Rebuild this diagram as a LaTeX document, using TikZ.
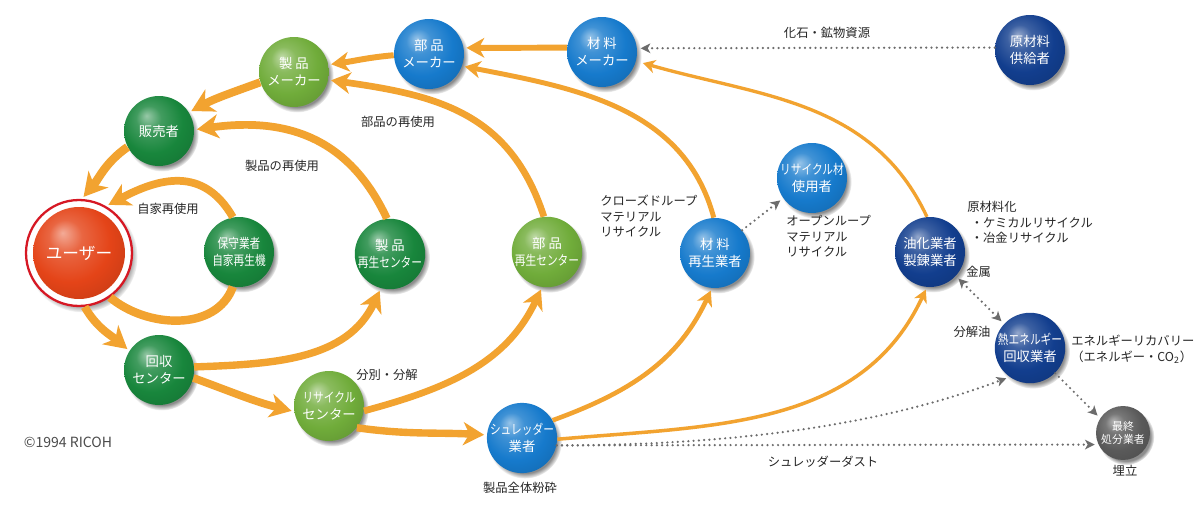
\documentclass[tikz,border=0pt]{standalone}
\usepackage{fontspec}
\newfontfamily\jpfont{Noto Sans CJK JP}
\usetikzlibrary{arrows.meta,shadows}

\definecolor{floworange}{RGB}{242,163,48}
\definecolor{dotgray}{RGB}{108,108,108}
\definecolor{dkgreen}{RGB}{24,134,60}
\definecolor{ltgreen}{RGB}{112,172,58}
\definecolor{midblue}{RGB}{22,122,204}
\definecolor{navyblue}{RGB}{18,62,142}
\definecolor{ashgray}{RGB}{90,90,90}
\definecolor{userred}{RGB}{228,68,24}
\definecolor{ringred}{RGB}{214,24,36}

% sphere look of the actors
\colorlet{spherecol}{midblue}
\pgfdeclareradialshading[spherecol]{sphere}{\pgfpoint{-9bp}{11bp}}{%
	color(0bp)=(spherecol!45!white); color(9bp)=(spherecol!82!white);
	color(22bp)=(spherecol); color(36bp)=(spherecol!86!black);
	color(50bp)=(spherecol!66!black)}

\newcommand{\nodefont}{\jpfont\fontsize{7.6}{9.6}\selectfont}
\newcommand{\labelfont}{\jpfont\fontsize{7}{8.8}\selectfont}
\newcommand{\cond}[1]{\scalebox{0.8}[1]{#1}}

\begin{document}
\begin{tikzpicture}[
		x=0.02cm, y=0.02cm,
		font=\jpfont,
		sphere color/.code={\colorlet{spherecol}{#1}},
		halo/.style={
			circular drop shadow={shadow xshift=1.6pt, shadow yshift=-2pt,
				shadow scale=1.05, fill=black!45}
		},
		orb/.style={
			circle,
			shade,
			shading=sphere,
			sphere color=#1,
			inner sep=0pt,
			text=white,
			align=center
		},
		ball/.style={
			orb=#1,
			minimum size=1.4cm,
			font=\nodefont,
			halo
		},
		caption/.style={
			font=\labelfont,
			text=black!85,
			inner sep=0pt,
			align=left
		},
		flowtip/.tip={Stealth[length=3pt 2.1,width=3pt 2.4,inset=1pt 0.6]},
		dottip/.tip={Stealth[length=5.5pt,width=5.5pt,inset=1.5pt]},
		flow/.style={
			draw=floworange,
			line width=#1,
			-flowtip,
			shorten >=1.5pt
		},
		dotlink/.style={
			draw=dotgray,
			line width=1.4pt,
			line cap=round,
			dash pattern=on 0pt off 3pt,
			-dottip,
			shorten >=2pt
		}
	]
		\useasboundingbox (0,0) rectangle (1200,524);
		\fill[white] (0,0) rectangle (1200,524);

		% the user
		\node[circle,draw=ringred,line width=1.3pt,fill=white,minimum size=2.12cm,halo] (user) at (79,271) {};
		\node[orb=userred,minimum size=1.84cm,font=\jpfont\fontsize{9.5}{11}\selectfont] (userball) at (user.center) {ユーザー};

		% actors
		\node[ball=dkgreen] (seller) at (159,393) {販売者};
		\node[ball=ltgreen] (pmaker) at (294,452) {製 品\\メーカー};
		\node[ball=midblue] (partmk) at (429,470) {部 品\\メーカー};
		\node[ball=midblue] (matmk) at (602,472) {材 料\\メーカー};
		\node[ball=navyblue] (rawsup) at (1030,474) {原材料\\供給者};
		\node[ball=midblue] (ruser) at (812,346) {\cond{リサイクル材}\\使用者};
		\node[ball=dkgreen] (maint) at (239,272) {\cond{保守業者}\\\cond{自家再生機}};
		\node[ball=dkgreen] (preuse) at (390,270) {製 品\\\cond{再生センター}};
		\node[ball=ltgreen] (partre) at (547,272) {部 品\\\cond{再生センター}};
		\node[ball=midblue] (matre) at (715,271) {材 料\\再生業者};
		\node[ball=navyblue] (oil) at (930,272) {油化業者\\製錬業者};
		\node[ball=navyblue] (heat) at (1030,176) {\cond{熱エネルギー}\\回収業者};
		\node[ball=ashgray,minimum size=1.08cm,font=\jpfont\fontsize{6.2}{7.8}\selectfont] (final) at (1123,91) {最終\\処分業者};
		\node[ball=dkgreen] (collect) at (159,154) {回収\\センター};
		\node[ball=ltgreen] (recyc) at (329,118) {\cond{リサイクル}\\センター};
		\node[ball=midblue] (shred) at (522,86) {\cond{シュレッダー}\\業者};

		% main loop
		\draw[flow=4.6pt] (pmaker.197) to[out=200,in=28] (seller.32);
		\draw[flow=4.8pt] (seller.207) to[out=215,in=50] (user.87);
		\draw[flow=4.6pt] (user.-84) to[out=-60,in=140] (collect.147);
		\draw[flow=4.4pt] (collect.-13) to[out=-20,in=166] (recyc.189);
		\draw[flow=4.2pt] (recyc.-38) to[out=-8,in=177] (shred.175);

		% reuse loops
		\draw[flow=4.4pt] (maint.100) to[out=120,in=28,looseness=1.2] (user.60);
		\draw[draw=floworange,line width=4.8pt] (user.-55) to[out=-40,in=250] (maint.260);
		\draw[flow=4.4pt] (preuse.95) to[out=115,in=8,looseness=1.1] (seller.2);
		\draw[flow=4.2pt] (collect.5) to[out=2,in=245] (preuse.255);
		\draw[flow=3.8pt] (partre.95) to[out=108,in=-8,looseness=1.1] (pmaker.-13);
		\draw[flow=3.8pt] (recyc.-8) to[out=15,in=245] (partre.262);

		% material side
		\draw[flow=3.4pt] (partmk.182) to[out=185,in=8] (pmaker.12);
		\draw[flow=3.4pt] (matmk.173) -- (partmk.10);
		\draw[flow=2.8pt] (matre.92) to[out=105,in=-11] (partmk.-20);
		\draw[flow=2.6pt] (shred.30) to[out=20,in=245] (matre.265);
		\draw[flow=1.9pt,shorten >=4pt] (oil.95) to[out=115,in=-16] (matmk.-15);
		\draw[flow=2pt] (shred.-2) to[out=5,in=245] (oil.265);

		% dotted links
		\draw[dotlink] (rawsup.176) -- (matmk.6);
		\draw[dotlink] (matre.40) -- (ruser.215);
		\draw[dotlink,dottip-dottip,shorten <=2pt] (oil.-43) -- (heat.137);
		\draw[dotlink] (shred.-12) .. controls +(0:260) and +(200:70) .. (heat.235);
		\draw[dotlink] (shred.-12) -- (final.205);
		\draw[dotlink] (heat.-45) -- (final.147);

		% labels
		\node[caption] (fossil) at (827,491) {化石・鉱物資源};
		\node[caption] (partreuse) at (398,402) {部品の再使用};
		\node[caption] (prodreuse) at (282,358) {製品の再使用};
		\node[caption] (selfreuse) at (168,315) {自家再使用};
		\node[caption,anchor=north west] (closed) at (600,329) {クローズドループ\\マテリアル\\リサイクル};
		\node[caption,anchor=north west] (open) at (786,309) {オープンループ\\マテリアル\\リサイクル};
		\node[caption,anchor=north west] (feed) at (967,323) {原材料化\\\hspace{2pt}・ケミカルリサイクル\\\hspace{2pt}・冶金リサイクル};
		\node[caption,anchor=west] (metal) at (966,252) {金属};
		\node[caption] (oilpart) at (972,192) {分解油};
		\node[caption,anchor=north west] (energy) at (1071,189) {エネルギーリカバリー\\（エネルギー・CO\textsubscript{2}）};
		\node[caption] (landfill) at (1125,53) {埋立};
		\node[caption] (dust) at (823,62) {シュレッダーダスト};
		\node[caption] (crush) at (520,36) {製品全体粉砕};
		\node[caption] (sorting) at (387,149) {分別・分解};
		\node[caption,text=black!70,font=\jpfont\fontsize{8}{9}\selectfont] (copy) at (68,82) {©1994 RICOH};
	\end{tikzpicture}
\end{document}
